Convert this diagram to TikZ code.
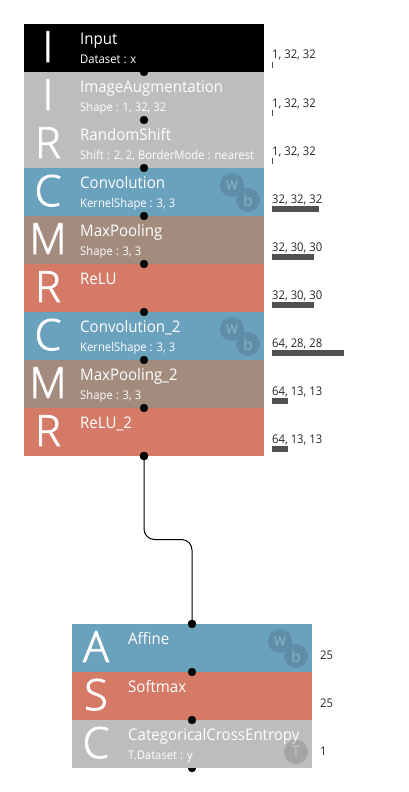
\documentclass[tikz,border=0pt]{standalone}
\usepackage{fontspec}
\setmainfont{Open Sans}[FakeStretch=0.94]
\newfontfamily\bigf{Open Sans Light}[FakeBold=2]
\definecolor{cblue}{HTML}{6AA1BD}
\definecolor{cbrown}{HTML}{A38C7E}
\definecolor{cred}{HTML}{D67A68}
\definecolor{cgray}{HTML}{BDBDBD}
\definecolor{cbar}{HTML}{505050}
\definecolor{bgblue}{HTML}{5E8DA7}
\tikzset{
  x=1pt,y=-1pt,
  layerbox/.style={minimum width=240pt,minimum height=48pt,inner sep=0pt,outer sep=0pt,anchor=north west,fill=#1},
  bigletter/.style={text=white,anchor=base,inner sep=0pt,font=\bigf\fontsize{43}{43}\selectfont},
  title/.style={text=white,anchor=base west,inner sep=0pt,font=\fontsize{16}{18}\selectfont},
  subtitle/.style={text=white,anchor=base west,inner sep=0pt,font=\fontsize{12}{14}\selectfont},
  shapelabel/.style={text=black!85,anchor=base west,inner sep=0pt,font=\fontsize{12}{14}\selectfont},
  bar/.style={fill=cbar,draw=none,inner sep=0pt,outer sep=0pt,minimum height=6pt,anchor=north west},
  dot/.style={circle,fill=black,inner sep=0pt,minimum size=8.4pt},
  badge/.style={circle,inner sep=0pt,minimum size=24pt,font=\fontsize{16}{16}\selectfont,text=white,text opacity=.32},
  wire/.style={draw=black,line width=1pt,rounded corners=10.5pt},
}
\newcommand{\Lay}[8]{% name,x,y,colour,letter,title,sub,lettercentre
  \node[layerbox=#4] (#1) at (#2,#3) {};
  \node[bigletter] (#1L) at ({#2+#8},{#3+38}) {#5};
  \node[title] (#1T) at ({#2+56},{#3+20.7}) {#6};
  \node[subtitle] (#1S) at ({#2+56},{#3+39.5}) {#7};
}
\newcommand{\Shp}[5]{% name,x,y,text,barwidth
  \node[shapelabel] (#1l) at (#2,{#3+35}) {#4};
  \node[bar,minimum width=#5pt] (#1b) at (#2,{#3+38}) {};
}
\newcommand{\Bdg}[4]{% name,x,y,text
  \node[badge,fill=bgblue] (#1) at (#2,#3) {#4};
}
\begin{document}
\begin{tikzpicture}
\useasboundingbox (0,0) rectangle (408,792);
\Lay{a}{24}{24}{black}{I}{Input}{Dataset : x}{24}
\Lay{b}{24}{72}{cgray}{I}{ImageAugmentation}{Shape : 1, 32, 32}{24}
\Lay{c}{24}{120}{cgray}{R}{RandomShift}{Shift : 2, 2, BorderMode : nearest}{24}
\Lay{d}{24}{168}{cblue}{C}{Convolution}{KernelShape : 3, 3}{24}
\Lay{e}{24}{216}{cbrown}{M}{MaxPooling}{Shape : 3, 3}{24}
\Lay{f}{24}{264}{cred}{R}{ReLU}{}{24}
\Lay{g}{24}{312}{cblue}{C}{Convolution\_2}{KernelShape : 3, 3}{24}
\Lay{h}{24}{360}{cbrown}{M}{MaxPooling\_2}{Shape : 3, 3}{24}
\Lay{i}{24}{408}{cred}{R}{ReLU\_2}{}{24}
\node[dot] (d9) at (144,456) {};
\node[dot] (dj) at (192,624) {};
\coordinate (mid) at (168,539.5);
\draw[wire] (d9.center) |- (mid) -| (dj.center);
\node[dot] (dl) at (192,768) {};
\Lay{j}{72}{624}{cblue}{A}{Affine}{}{24}
\Lay{k}{72}{672}{cred}{S}{Softmax}{}{24}
\Lay{l}{72}{720}{cgray}{C}{CategoricalCrossEntropy}{T.Dataset : y}{24}
\foreach \n/\yy in {d1/72,d2/120,d3/168,d4/216,d5/264,d6/312,d7/360,d8/408,d9b/456}
  \node[dot] (\n) at (144,\yy) {};
\foreach \n/\yy in {dj2/624,dk/672,dm/720}
  \node[dot] (\n) at (192,\yy) {};
\Bdg{w1}{232}{185}{w}
\Bdg{b1}{248}{200}{b}
\Bdg{w2}{232}{329}{w}
\Bdg{b2}{248}{344}{b}
\Bdg{w3}{280}{641}{w}
\Bdg{b3}{296}{656}{b}
\node[badge,fill=black,fill opacity=.13] (t1) at (296,752) {T};
\Shp{s1}{272}{24}{1, 32, 32}{1}
\Shp{s2}{272}{72}{1, 32, 32}{1}
\Shp{s3}{272}{120}{1, 32, 32}{1}
\Shp{s4}{272}{168}{32, 32, 32}{47}
\Shp{s5}{272}{216}{32, 30, 30}{41.5}
\Shp{s6}{272}{264}{32, 30, 30}{41.5}
\Shp{s7}{272}{312}{64, 28, 28}{72}
\Shp{s8}{272}{360}{64, 13, 13}{15.5}
\Shp{s9}{272}{408}{64, 13, 13}{15.5}
\node[shapelabel] (s10) at (320,659) {25};
\node[shapelabel] (s11) at (320,707) {25};
\node[shapelabel] (s12) at (320,755) {1};
\end{tikzpicture}
\end{document}
